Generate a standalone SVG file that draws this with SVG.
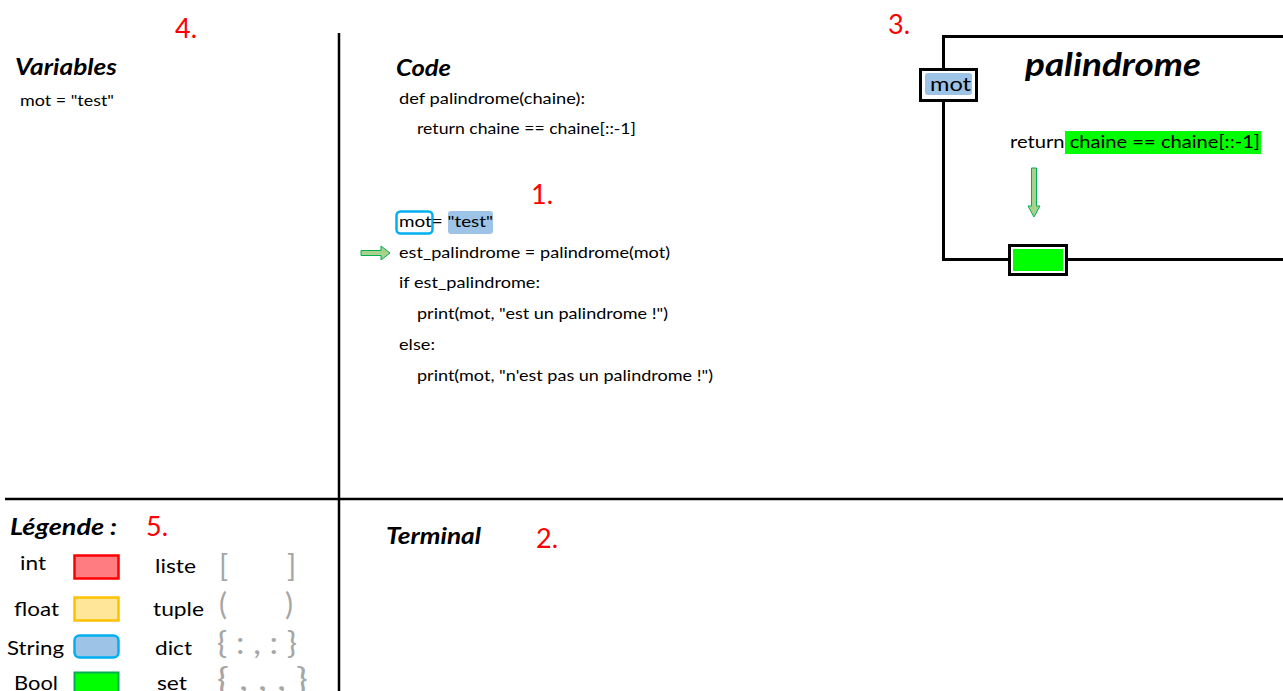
<svg xmlns="http://www.w3.org/2000/svg" width="1283" height="691" viewBox="0 0 1283 691">
<style>
text{font-family:Lato,"Open Sans","Liberation Sans",sans-serif;fill:#000}
.h{font-weight:bold;font-style:italic;font-size:22px}
.c{font-size:16px}
.n{fill:#ff0000;font-size:27px}
.lg{font-size:20px}
.br{fill:#a6a6a6;font-size:30px}
.frame{stroke:#000;stroke-width:3;fill:none}
</style>
<rect width="1283" height="691" fill="#fff"/>
<g id="separators">
<line x1="339" y1="33" x2="339" y2="691" stroke="#000" stroke-width="2.5"/>
<line x1="5" y1="499" x2="1283" y2="499" stroke="#000" stroke-width="2.5"/>
</g>
<g id="variables">
<text x="175" y="38" class="n">4.</text>
<text x="15" y="75" class="h" textLength="102" lengthAdjust="spacingAndGlyphs">Variables</text>
<text x="20" y="106" class="c" textLength="94" lengthAdjust="spacingAndGlyphs">mot = "test"</text>
</g>
<g id="code">
<text x="396" y="76" class="h" textLength="55" lengthAdjust="spacingAndGlyphs">Code</text>
<text x="399" y="104" class="c" textLength="186" lengthAdjust="spacingAndGlyphs">def palindrome(chaine):</text>
<text x="417" y="134" class="c" textLength="219" lengthAdjust="spacingAndGlyphs">return chaine == chaine[::-1]</text>
<text x="531" y="204" class="n">1.</text>
<rect x="396.5" y="211.5" width="36" height="22" rx="4" fill="none" stroke="#00b0f0" stroke-width="2.5"/>
<rect x="448" y="211" width="45" height="23" rx="3" fill="#9dc3e6"/>
<text x="399" y="227" class="c" textLength="94" lengthAdjust="spacingAndGlyphs">mot= "test"</text>
<text x="399" y="258" class="c" textLength="271" lengthAdjust="spacingAndGlyphs">est_palindrome = palindrome(mot)</text>
<text x="399" y="288" class="c" textLength="141" lengthAdjust="spacingAndGlyphs">if est_palindrome:</text>
<text x="417" y="319" class="c" textLength="251" lengthAdjust="spacingAndGlyphs">print(mot, "est un palindrome !")</text>
<text x="399" y="350" class="c" textLength="36" lengthAdjust="spacingAndGlyphs">else:</text>
<text x="417" y="381" class="c" textLength="296" lengthAdjust="spacingAndGlyphs">print(mot, "n'est pas un palindrome !")</text>
</g>
<g id="function-palindrome">
<text x="888" y="34" class="n">3.</text>
<path d="M1283,36.5 H943.5 V259.5 H1283" class="frame"/>
<text x="1025" y="76" font-size="32" font-weight="bold" font-style="italic" textLength="176" lengthAdjust="spacingAndGlyphs">palindrome</text>
<rect x="1065" y="131" width="196" height="23" fill="#00ff00"/>
<text x="1010" y="148" font-size="18" textLength="250" lengthAdjust="spacingAndGlyphs">return chaine == chaine[::-1]</text>
</g>
<g id="param-mot">
<rect x="920.5" y="69.5" width="56" height="31" fill="#fff" stroke="#000" stroke-width="3"/>
<rect x="925" y="73" width="47" height="22" rx="3" fill="#9dc3e6"/>
<text x="930" y="91" font-size="20" textLength="41" lengthAdjust="spacingAndGlyphs">mot</text>
</g>
<g id="return-value">
<rect x="1009.5" y="245.5" width="57" height="29" fill="#fff" stroke="#000" stroke-width="3"/>
<rect x="1013" y="249" width="50" height="22" fill="#00ff00"/>
</g>
<g id="connectors">
<path d="M361,250.5 H381 V246 L390,253 L381,260 V255.5 H361 Z" fill="#a9d18e" stroke="#00b050" stroke-width="1"/>
<path d="M1031.5,168 H1036.5 V206 H1040 L1034,217 L1028,206 H1031.5 Z" fill="#a9d18e" stroke="#00b050" stroke-width="1"/>
</g>
<g id="terminal">
<text x="386" y="544" class="h" textLength="95" lengthAdjust="spacingAndGlyphs">Terminal</text>
<text x="536" y="548" class="n">2.</text>
</g>
<g id="legend">
<text x="10" y="535" class="h" textLength="107" lengthAdjust="spacingAndGlyphs">Légende :</text>
<text x="146" y="536" class="n">5.</text>
<text x="20" y="570" class="lg" textLength="26" lengthAdjust="spacingAndGlyphs">int</text>
<rect x="74.5" y="555.5" width="44" height="23" fill="#ff7c80" stroke="#ff0000" stroke-width="2.5"/>
<text x="14" y="616" class="lg" textLength="45" lengthAdjust="spacingAndGlyphs">float</text>
<rect x="74.5" y="597.5" width="44" height="23" fill="#ffe699" stroke="#ffc000" stroke-width="2.5"/>
<text x="7" y="655" class="lg" textLength="57" lengthAdjust="spacingAndGlyphs">String</text>
<rect x="74.5" y="635.5" width="44" height="22" rx="5" fill="#9dc3e6" stroke="#00b0f0" stroke-width="2.5"/>
<text x="14" y="690" class="lg" textLength="44" lengthAdjust="spacingAndGlyphs">Bool</text>
<rect x="74.5" y="672.5" width="44" height="23" fill="#00ff00" stroke="#00b050" stroke-width="2"/>
<text x="155" y="573" class="lg" textLength="41" lengthAdjust="spacingAndGlyphs">liste</text>
<text x="219" y="577" class="br">[</text>
<text x="287" y="577" class="br">]</text>
<text x="153" y="616" class="lg" textLength="51" lengthAdjust="spacingAndGlyphs">tuple</text>
<text x="219" y="615" class="br">(</text>
<text x="285" y="615" class="br">)</text>
<text x="155" y="655" class="lg" textLength="37" lengthAdjust="spacingAndGlyphs">dict</text>
<text x="217" y="654" class="br" textLength="80" lengthAdjust="spacingAndGlyphs">{ : , : }</text>
<text x="157" y="690" class="lg" textLength="30" lengthAdjust="spacingAndGlyphs">set</text>
<text x="217" y="690" class="br" textLength="91" lengthAdjust="spacingAndGlyphs">{ , , , }</text>
</g>
</svg>
